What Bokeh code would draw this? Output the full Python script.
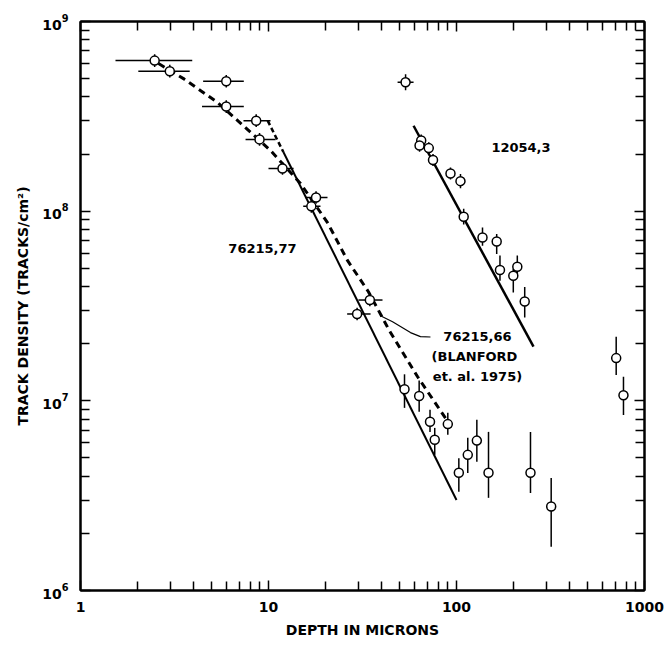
from bokeh.plotting import figure
from bokeh.models import LogAxis, FixedTicker, Label, BasicTickFormatter, CustomJSTickFormatter, LogTickFormatter
from bokeh.embed import file_html
from bokeh.resources import INLINE

# ---------------- data ----------------
# 76215,77 points with horizontal depth bars (crosshair symbols)
a_x = [2.48, 2.985, 5.96, 5.96, 8.60, 8.96, 11.87, 17.9, 16.9, 34.6, 29.6]
a_y = [6.22e8, 5.47e8, 4.84e8, 3.56e8, 3.00e8, 2.39e8, 1.68e8, 1.18e8, 1.06e8, 3.40e7, 2.87e7]
a_xlo = [1.535, 2.03, 4.49, 4.43, 7.36, 7.55, 10.0, 15.7, 15.3, 30.1, 26.2]
a_xhi = [3.93, 3.81, 7.39, 7.39, 10.25, 10.9, 13.6, 20.6, 18.9, 40.4, 34.9]
a_yfac = [1.08] * 11

# deeper points with vertical error bars
b_x = [52.9, 63.3, 72.3, 76.6, 89.9, 102.9, 114.8, 128.3, 148.0, 247.5, 318.9, 707.0, 773.0]
b_y = [1.15e7, 1.06e7, 7.75e6, 6.23e6, 7.54e6, 4.18e6, 5.19e6, 6.17e6, 4.18e6, 4.18e6, 2.77e6, 1.68e7, 1.07e7]
b_ylo = [9.18e6, 8.75e6, 6.86e6, 5.19e6, 6.62e6, 3.32e6, 4.17e6, 4.78e6, 3.08e6, 3.27e6, 1.70e6, 1.37e7, 8.43e6]
b_yhi = [1.38e7, 1.28e7, 8.97e6, 7.20e6, 8.64e6, 4.98e6, 6.38e6, 7.94e6, 6.86e6, 6.86e6, 3.92e6, 2.18e7, 1.34e7]

# 12054,3 points
c_x = [53.6, 64.9, 63.6, 71.2, 75.0, 92.9, 105.0, 109.2, 137.5, 163.6, 170.3, 200.5, 210.6, 230.6]
c_y = [4.78e8, 2.36e8, 2.22e8, 2.15e8, 1.86e8, 1.58e8, 1.44e8, 9.35e7, 7.27e7, 6.92e7, 4.90e7, 4.57e7, 5.09e7, 3.34e7]
c_ylo = [4.34e8, 2.19e8, 2.06e8, 2.00e8, 1.73e8, 1.47e8, 1.32e8, 8.50e7, 6.58e7, 5.94e7, 4.30e7, 3.73e7, 4.66e7, 2.75e7]
c_yhi = [5.27e8, 2.54e8, 2.39e8, 2.31e8, 2.00e8, 1.70e8, 1.57e8, 1.03e8, 8.21e7, 7.58e7, 5.83e7, 4.95e7, 5.83e7, 3.98e7]
c_xlo = [48.6]
c_xhi = [59.1]

# fitted lines
fit77_x = [12.0, 100.0]
fit77_y = [2.05e8, 3.0e6]
fit77_ext_x = [9.9, 12.0]
fit77_ext_y = [3.0e8, 2.05e8]

fit12054_x = [59.1, 256.8]
fit12054_y = [2.82e8, 1.93e7]

blanford_x = [2.60, 3.53, 5.36, 7.54, 10.25, 14.8, 20.6, 26.3, 34.0, 44.0, 62.1, 87.4, 92.9]
blanford_y = [6.0e8, 5.0e8, 3.74e8, 2.76e8, 2.09e8, 1.40e8, 8.7e7, 5.5e7, 3.76e7, 2.34e7, 1.34e7, 8.1e6, 7.2e6]

leader_x = [39.4, 45.7, 56.9, 64.3, 72.7]
leader_y = [2.81e7, 2.61e7, 2.29e7, 2.18e7, 2.17e7]

labels_text = ["76215,77", "12054,3", "76215,66", "(BLANFORD", "et. al. 1975)"]
labels_x = [9.29, 220.3, 129.3, 124.6, 129.3]
labels_y = [6.34e7, 2.17e8, 2.18e7, 1.71e7, 1.34e7]

x_decades = [1, 10, 100, 1000]
y_decades = [1e6, 1e7, 1e8, 1e9]
minor_mult = [2, 3, 4, 5, 6, 7, 8, 9]

FONT = "DejaVu Sans"

# ---------------- figure ----------------
p = figure(frame_width=564, frame_height=569, x_axis_type="log", y_axis_type="log",
           x_range=(1, 1000), y_range=(1e6, 1e9),
           output_backend="svg", toolbar_location=None,
           min_border_left=80, min_border_right=24, min_border_top=21, min_border_bottom=58)
p.grid.visible = False
p.outline_line_color = "black"
p.outline_line_width = 2
p.background_fill_color = "white"
p.border_fill_color = "white"

x_minor = [d * m for d in x_decades[:-1] for m in minor_mult]
y_minor = [d * m for d in y_decades[:-1] for m in minor_mult]


def style_axis(ax, labels=True):
    ax.axis_line_color = "black"
    ax.axis_line_width = 2
    ax.major_tick_in = 10
    ax.major_tick_out = 0
    ax.minor_tick_in = 9
    ax.minor_tick_out = 0
    ax.major_tick_line_width = 1.5
    ax.minor_tick_line_width = 1.5
    ax.major_tick_line_color = "black"
    ax.minor_tick_line_color = "black"
    if labels:
        ax.major_label_text_font = FONT
        ax.major_label_text_font_style = "bold"
        ax.major_label_text_font_size = "14px"
        ax.major_label_text_color = "black"
        ax.axis_label_text_font = FONT
        ax.axis_label_text_font_style = "bold"
        ax.axis_label_text_font_size = "14px"
        ax.axis_label_text_color = "black"
    else:
        ax.formatter = CustomJSTickFormatter(code="return '';")
        ax.major_label_text_font_size = "2px"
        ax.major_label_text_alpha = 0
        ax.major_label_standoff = 0


xa = p.xaxis[0]
xa.ticker = FixedTicker(ticks=x_decades, minor_ticks=x_minor)
xa.formatter = BasicTickFormatter()
style_axis(xa)
xa.major_label_standoff = 11
xa.axis_label = "DEPTH IN MICRONS"
xa.axis_label_standoff = 7

ya = p.yaxis[0]
ya.ticker = FixedTicker(ticks=y_decades, minor_ticks=y_minor)
ya.formatter = LogTickFormatter()
style_axis(ya)
ya.major_label_standoff = 12
ya.axis_label = "TRACK DENSITY (TRACKS/cm²)"
ya.axis_label_standoff = 8

top = LogAxis(ticker=FixedTicker(ticks=x_decades, minor_ticks=x_minor))
style_axis(top, labels=False)
p.add_layout(top, "above")
right = LogAxis(ticker=FixedTicker(ticks=y_decades, minor_ticks=y_minor))
style_axis(right, labels=False)
p.add_layout(right, "right")

# ---------------- lines ----------------
p.line(blanford_x, blanford_y, line_color="black", line_width=3, line_dash="7 5")
p.line(fit77_x, fit77_y, line_color="black", line_width=2)
p.line(fit77_ext_x, fit77_ext_y, line_color="black", line_width=2.5, line_dash="5 3")
p.line(fit12054_x, fit12054_y, line_color="black", line_width=2.5)
p.line(leader_x, leader_y, line_color="black", line_width=1.2)

# ---------------- error bars ----------------
p.segment(x0=a_xlo, x1=a_xhi, y0=a_y, y1=a_y, line_color="black", line_width=1.5)
p.segment(x0=a_x, x1=a_x, y0=[y / f for y, f in zip(a_y, a_yfac)],
          y1=[y * f for y, f in zip(a_y, a_yfac)], line_color="black", line_width=1.5)
p.segment(x0=b_x, x1=b_x, y0=b_ylo, y1=b_yhi, line_color="black", line_width=1.5)
p.segment(x0=c_x, x1=c_x, y0=c_ylo, y1=c_yhi, line_color="black", line_width=1.5)
p.segment(x0=c_xlo, x1=c_xhi, y0=c_y[:1], y1=c_y[:1], line_color="black", line_width=1.5)

# ---------------- markers ----------------
for xs, ys in ((a_x, a_y), (b_x, b_y), (c_x, c_y)):
    p.scatter(xs, ys, size=9, marker="circle", fill_color="white",
              line_color="black", line_width=1.5)

# ---------------- labels ----------------
for t, lx, ly in zip(labels_text, labels_x, labels_y):
    p.add_layout(Label(x=lx, y=ly, text=t, text_font=FONT, text_font_style="bold",
                       text_font_size="13px", text_align="center",
                       text_baseline="middle", text_color="black"))

open("out.html", "w").write(file_html(p, INLINE))
